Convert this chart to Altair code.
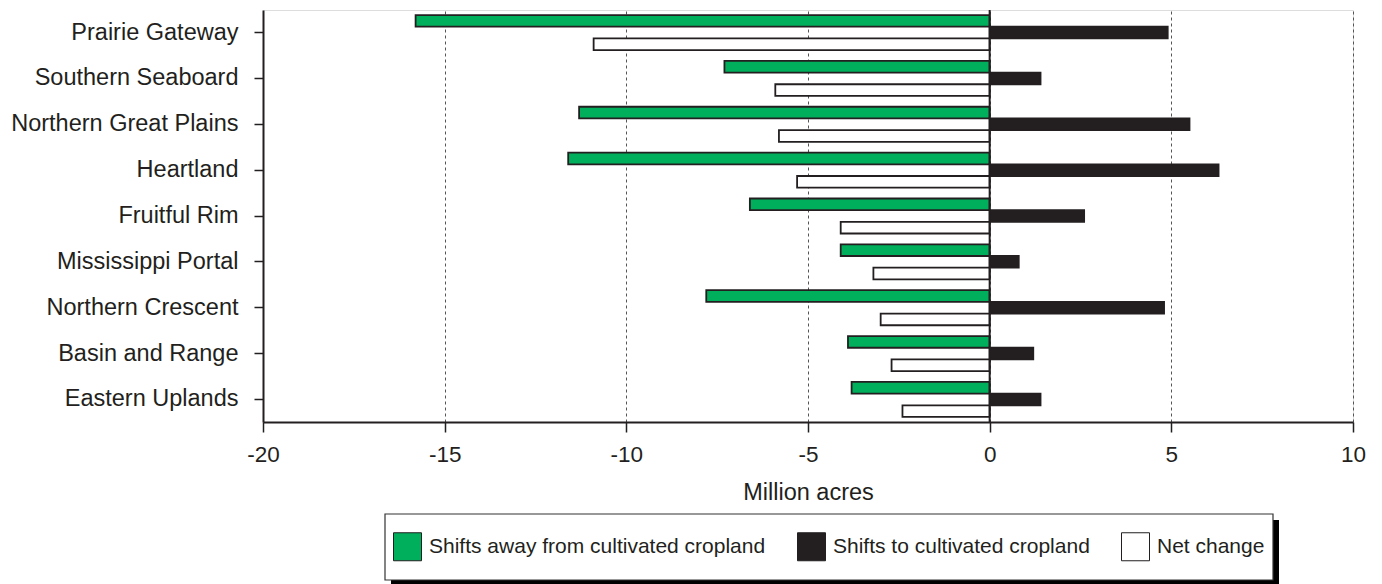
import altair as alt
import pandas as pd

regions = ["Prairie Gateway", "Southern Seaboard", "Northern Great Plains", "Heartland",
           "Fruitful Rim", "Mississippi Portal", "Northern Crescent", "Basin and Range",
           "Eastern Uplands"]
shifts_away = [-15.8, -7.3, -11.3, -11.6, -6.6, -4.1, -7.8, -3.9, -3.8]
shifts_to = [4.9, 1.4, 5.5, 6.3, 2.6, 0.8, 4.8, 1.2, 1.4]
net_change = [-10.9, -5.9, -5.8, -5.3, -4.1, -3.2, -3.0, -2.7, -2.4]
series = ["Shifts away from cultivated cropland", "Shifts to cultivated cropland", "Net change"]
colors = ["#00af5b", "#231f20", "#ffffff"]
x_ticks = [-20, -15, -10, -5, 0, 5, 10]

rows = []
for i, r in enumerate(regions):
    for s, vals in zip(series, [shifts_away, shifts_to, net_change]):
        rows.append({"region": r, "series": s, "value": vals[i]})
df = pd.DataFrame(rows)

FONT = "Liberation Sans"
DARK = "#231f20"

bars = alt.Chart(df).mark_bar(stroke=DARK, strokeWidth=1.8).encode(
    x=alt.X("value:Q",
            scale=alt.Scale(domain=[-20, 10], nice=False, zero=False),
            axis=alt.Axis(values=x_ticks, title="Million acres", grid=True,
                          labelExpr="datum.value + ''", labelFlush=False,
                          gridDash=[3, 3], gridColor="#555", gridWidth=1,
                          labelFontSize=22.5, titleFontSize=23.5, titleFontWeight="normal",
                          tickSize=10, labelPadding=11, titlePadding=15,
                          domainColor=DARK, domainWidth=2, tickColor=DARK, tickWidth=1.5,
                          labelColor=DARK, titleColor=DARK, labelFont=FONT, titleFont=FONT)),
    x2=alt.datum(0),
    y=alt.Y("region:N", sort=regions,
            scale=alt.Scale(paddingInner=0.236, paddingOuter=0.11),
            axis=alt.Axis(title=None, labelFontSize=23.5, labelPadding=16, tickSize=9,
                          labelLimit=400,
                          domainColor=DARK, domainWidth=2, tickColor=DARK, tickWidth=1.5,
                          labelColor=DARK, labelFont=FONT, grid=False)),
    yOffset=alt.YOffset("series:N", sort=series,
                        scale=alt.Scale(domain=series, paddingInner=0, paddingOuter=0)),
    color=alt.Color("series:N", sort=series,
                    scale=alt.Scale(domain=series, range=colors),
                    legend=alt.Legend(title=None, orient="none", direction="horizontal",
                                      legendX=130, legendY=522, symbolType="square",
                                      symbolSize=784, symbolStrokeColor=DARK,
                                      symbolStrokeWidth=1, symbolOpacity=1,
                                      labelFontSize=21, labelFont=FONT, labelColor=DARK,
                                      labelLimit=600, labelOffset=7, columnPadding=29,
                                      padding=0)),
)

zero_rule = alt.Chart(pd.DataFrame({"v": [0]})).mark_rule(color=DARK, strokeWidth=2).encode(
    x=alt.X("v:Q")
)

box_df = pd.DataFrame({"k": [0]})
shadow = alt.Chart(box_df).mark_rect(color="#000000", clip=False).encode(
    x=alt.value(128), x2=alt.value(1016), y=alt.value(510), y2=alt.value(576)
)
box = alt.Chart(box_df).mark_rect(fill="#ffffff", stroke="#333333", strokeWidth=1.2,
                                  clip=False).encode(
    x=alt.value(122), x2=alt.value(1010), y=alt.value(504), y2=alt.value(570)
)

chart = alt.layer(shadow, box, bars, zero_rule).properties(
    width=1090, height=412,
    padding={"left": 255, "top": 2, "right": 21, "bottom": 162},
    autosize=alt.AutoSizeParams(type="none"),
).configure_view(stroke=None).configure(background="white")

chart.save("out.html", embed_options={"renderer": "svg", "actions": False})
